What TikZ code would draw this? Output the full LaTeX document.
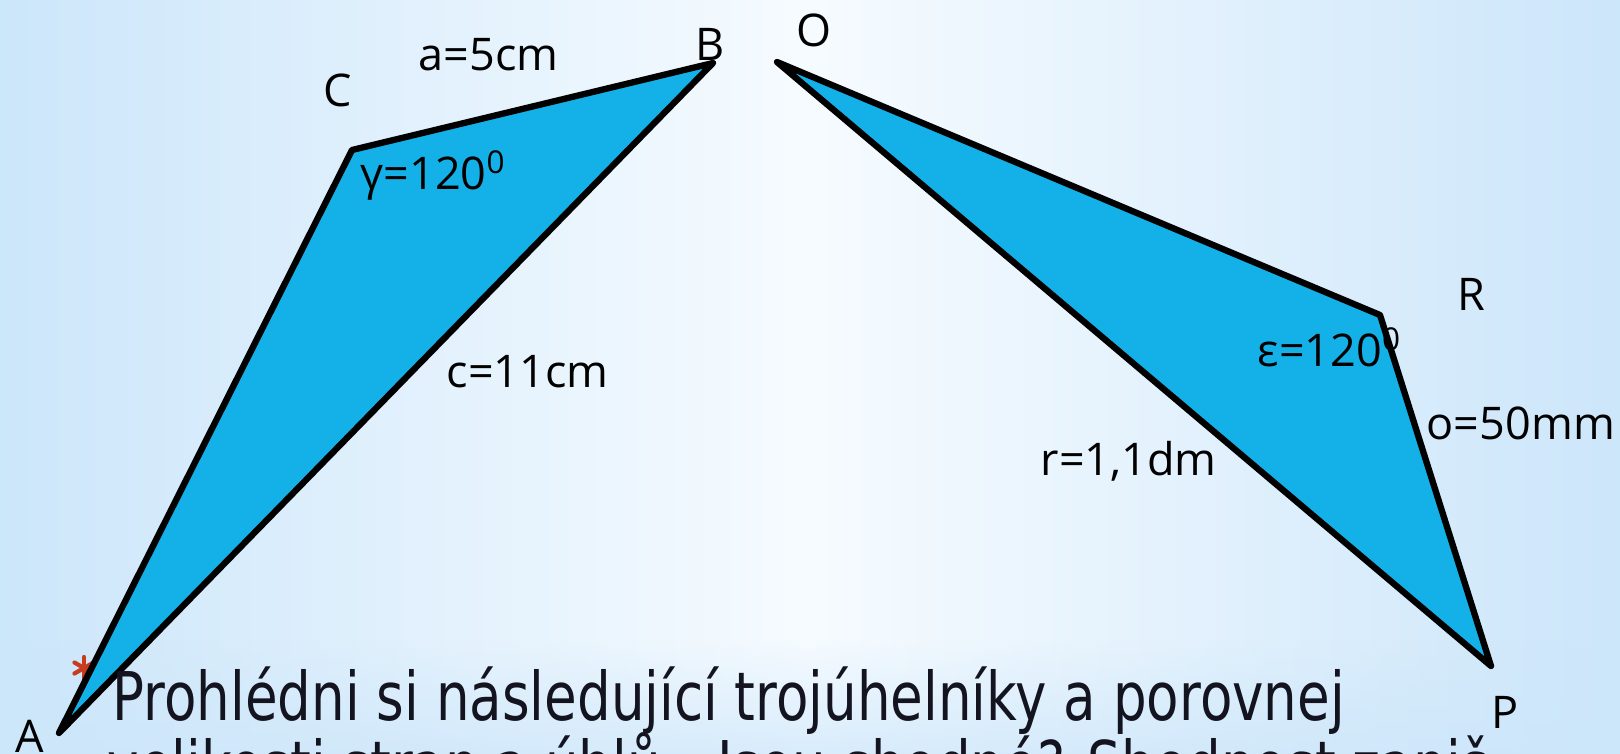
\documentclass[tikz,border=0pt]{standalone}
\usepackage{fontspec}
\usetikzlibrary{fadings}
\newfontfamily\labf{Open Sans}
\newfontfamily\bodyf{DejaVu Sans}[FakeStretch=0.79]
\definecolor{bgedge}{RGB}{204,230,250}
\definecolor{bgmid}{RGB}{246,251,255}
\definecolor{tri}{RGB}{20,177,232}
\definecolor{bulletred}{RGB}{200,60,30}
\definecolor{ink}{RGB}{20,20,32}
\begin{document}
\begin{tikzpicture}[x=0.01cm,y=-0.01cm,
  lab/.style={inner sep=0pt, anchor=base west, font=\labf\fontsize{12.8pt}{15pt}\selectfont, text=black},
  trifill/.style={fill=tri, draw=black, line width=1.8pt, line join=round},
  body/.style={inner sep=0pt, anchor=base west, font=\bodyf\fontsize{19.1pt}{23pt}\selectfont, text=ink}]
\useasboundingbox (0,0) rectangle (1620,754);
\clip (0,0) rectangle (1620,754);
\shade[left color=bgedge, right color=bgedge, middle color=bgmid] (0,0) rectangle (1620,754);
\fill[bgedge, path fading=north, opacity=0.7] (0,640) rectangle (1620,754);

% bullet
\foreach \a in {90,30,-30}
  \draw[bulletred, line width=1.2pt, line cap=round] (84,668) ++(\a:11) -- ++(\a+180:22);

% triangles
\coordinate (A) at (59,733);
\coordinate (C) at (352,150);
\coordinate (B) at (713,63);
\coordinate (O) at (777,62);
\coordinate (R) at (1380,315);
\coordinate (P) at (1491,666);
\draw[trifill] (A) -- (C) -- (B) -- cycle;
\draw[trifill] (O) -- (R) -- (P) -- cycle;

% labels
\node[lab] (lC) at (323,106) {C};
\node[lab] (la) at (418,70) {a=5cm};
\node[lab] (lB) at (695,60) {B};
\node[lab] (lO) at (796,46) {O};
\node[lab] (lg) at (360,189) {γ=120\textsuperscript{0}};
\node[lab] (lc) at (446,387) {c=11cm};
\node[lab] (lR) at (1457,310) {R};
\node[lab] (le) at (1257,366) {ε=120\textsuperscript{0}};
\node[lab] (lo) at (1426,439) {o=50mm};
\node[lab] (lr) at (1040,475) {r=1,1dm};
\node[lab] (lP) at (1491,728) {P};
\node[lab] (lA) at (15,752) {A};

% body text
\node[body] (t1) at (112,720) {Prohlédni si následující trojúhelníky a porovnej};
\node[body] (t2) at (107,789) {velikosti stran a úhlů . Jsou shodné? Shodnost zapiš.};
\end{tikzpicture}
\end{document}
